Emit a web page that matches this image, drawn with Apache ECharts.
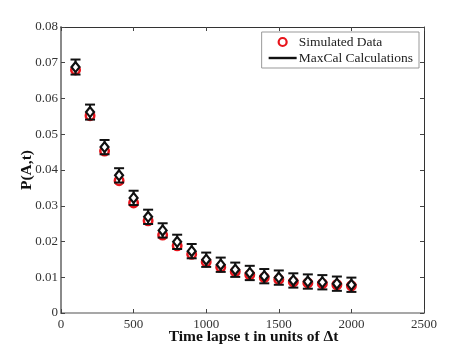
<!DOCTYPE html>
<html>
<head>
<meta charset="utf-8">
<script src="https://cdn.jsdelivr.net/npm/echarts@6/dist/echarts.min.js"></script>
<style>
  html, body { margin: 0; padding: 0; background: #fff; }
  #chart { width: 469px; height: 352px; }
</style>
</head>
<body>
<div id="chart"></div>
<script>
// time lapse in units of dt
const times = [100, 200, 300, 400, 500, 600, 700, 800, 900, 1000,
  1100, 1200, 1300, 1400, 1500, 1600, 1700, 1800, 1900, 2000]
// simulated data (red circles)
const simulated = [0.0680, 0.0552, 0.0453, 0.0370, 0.0308, 0.0258, 0.0218, 0.0188, 0.0164, 0.0143,
  0.0128, 0.0116, 0.0107, 0.0099, 0.0094, 0.0087, 0.0084, 0.0082, 0.0079, 0.0076]
// MaxCal calculations (diamonds) and their error half-widths
const maxcal = [0.0688, 0.0562, 0.0464, 0.0385, 0.0322, 0.0269, 0.0231, 0.0199, 0.0173, 0.0149,
  0.0135, 0.0121, 0.0112, 0.0103, 0.0099, 0.0091, 0.0088, 0.0086, 0.0082, 0.0079]
const maxcalErr = [0.0021, 0.0021, 0.0020, 0.0020, 0.0020, 0.0020, 0.0020, 0.0020, 0.0020, 0.0020,
  0.0020, 0.0020, 0.0020, 0.0020, 0.0020, 0.0020, 0.0020, 0.0020, 0.0020, 0.0020]
const xTicks = [0, 2500, 500]
const yTicks = [0, 0.08, 0.01]

const font = 'Liberation Serif'
const chart = echarts.init(document.getElementById('chart'))

const simData = times.map((t, i) => [t, simulated[i]])
const calData = times.map((t, i) => [t, maxcal[i]])
const errData = times.map((t, i) => [t, maxcal[i] - maxcalErr[i], maxcal[i] + maxcalErr[i]])

function renderErr(params, api) {
  const x = api.value(0)
  const lo = api.coord([x, api.value(1)])
  const hi = api.coord([x, api.value(2)])
  const w = 5
  const style = { stroke: '#111', lineWidth: 2 }
  return {
    type: 'group',
    children: [
      { type: 'line', shape: { x1: lo[0], y1: lo[1], x2: hi[0], y2: hi[1] }, style },
      { type: 'line', shape: { x1: lo[0] - w, y1: lo[1], x2: lo[0] + w, y2: lo[1] }, style },
      { type: 'line', shape: { x1: hi[0] - w, y1: hi[1], x2: hi[0] + w, y2: hi[1] }, style }
    ]
  }
}

// ticks point into the plot
const tick = () => ({ show: true, inside: true, length: 4, lineStyle: { color: '#444', width: 1 } })

chart.setOption({
  backgroundColor: '#fff',
  animation: false,
  grid: { left: 61, right: 45, top: 27, bottom: 39, outerBoundsMode: 'none' },
  legend: {
    right: 50,
    top: 32,
    orient: 'vertical',
    itemWidth: 28,
    itemHeight: 8,
    itemGap: 2,
    padding: [3, 6, 3, 7],
    backgroundColor: '#fff',
    borderColor: '#999',
    borderWidth: 1,
    borderRadius: 0,
    textStyle: { fontFamily: font, fontSize: 13.5, color: '#222', padding: [0, 0, 0, -3] },
    data: [
      {
        name: 'Simulated Data',
        icon: 'circle',
        itemStyle: { color: '#fff', borderColor: '#e8141b', borderWidth: 2.2 }
      },
      {
        name: 'MaxCal Calculations',
        icon: 'path://M0,0M0,2.8L28,2.8L28,5.2L0,5.2ZM28,8',
        itemStyle: { color: '#111', borderWidth: 0 }
      }
    ]
  },
  xAxis: [
    {
      type: 'value',
      min: xTicks[0],
      max: xTicks[1],
      interval: xTicks[2],
      name: 'Time lapse t in units of \u0394t',
      nameLocation: 'middle',
      nameGap: 16,
      nameMoveOverlap: false,
      nameTextStyle: { fontFamily: font, fontSize: 15.5, fontWeight: 'bold', color: '#111', padding: [0, 0, 0, 22] },
      axisLine: { onZero: false, lineStyle: { color: '#8a8a8a', width: 1.5 } },
      axisTick: tick(),
      axisLabel: { fontFamily: font, fontSize: 13, color: '#333', margin: 5, formatter: v => String(v) },
      splitLine: { show: false }
    },
    {
      type: 'value',
      position: 'top',
      min: xTicks[0],
      max: xTicks[1],
      interval: xTicks[2],
      axisLine: { onZero: false, lineStyle: { color: '#333', width: 1 } },
      axisTick: tick(),
      axisLabel: { show: false },
      splitLine: { show: false }
    }
  ],
  yAxis: [
    {
      type: 'value',
      min: yTicks[0],
      max: yTicks[1],
      interval: yTicks[2],
      name: 'P(A,t)',
      nameLocation: 'middle',
      nameGap: 26,
      nameMoveOverlap: false,
      nameTextStyle: { fontFamily: font, fontSize: 15.5, fontWeight: 'bold', color: '#111' },
      axisLine: { onZero: false, lineStyle: { color: '#8a8a8a', width: 2 } },
      axisTick: tick(),
      axisLabel: {
        fontFamily: font,
        fontSize: 13,
        color: '#333',
        margin: 3,
        formatter: v => (v === 0 ? '0' : v.toFixed(2))
      },
      splitLine: { show: false }
    },
    {
      type: 'value',
      position: 'right',
      min: yTicks[0],
      max: yTicks[1],
      interval: yTicks[2],
      axisLine: { onZero: false, lineStyle: { color: '#333', width: 1 } },
      axisTick: tick(),
      axisLabel: { show: false },
      splitLine: { show: false }
    }
  ],
  series: [
    {
      name: 'Simulated Data',
      type: 'scatter',
      data: simData,
      symbol: 'circle',
      symbolSize: 8.5,
      itemStyle: { color: 'rgba(255,255,255,0)', borderColor: '#e8141b', borderWidth: 2.5, opacity: 1 },
      z: 2
    },
    {
      name: 'MaxCal error',
      type: 'custom',
      data: errData,
      renderItem: renderErr,
      z: 3
    },
    {
      name: 'MaxCal Calculations',
      type: 'scatter',
      data: calData,
      symbol: 'diamond',
      symbolSize: [8, 10],
      itemStyle: { color: '#fff', borderColor: '#111', borderWidth: 2.2, opacity: 1 },
      z: 4
    }
  ]
})
</script>
</body>
</html>
